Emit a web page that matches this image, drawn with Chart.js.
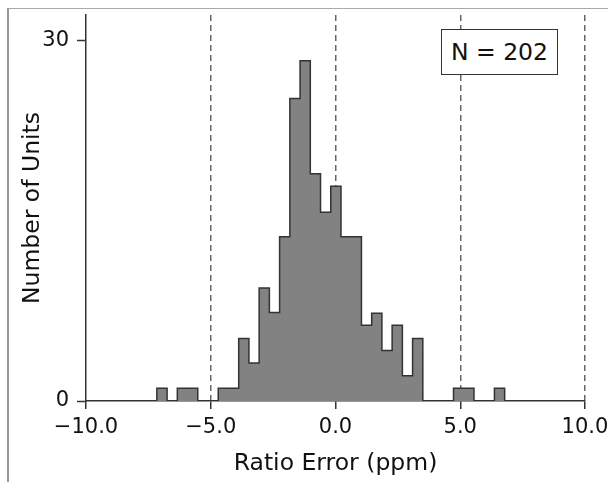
<!DOCTYPE html>
<html>
<head>
<meta charset="utf-8">
<script src="https://cdn.jsdelivr.net/npm/chart.js@4.4.1/dist/chart.umd.min.js"></script>
<style>
  html, body { margin: 0; padding: 0; background: #fff; }
  #wrap { position: relative; width: 608px; height: 482px; overflow: hidden; }
  #frame { position: absolute; left: 7px; top: 8px; width: 700px; height: 600px;
           border-left: 2px solid #999; border-top: 1.5px solid #aaa; box-sizing: border-box; }
  canvas { position: absolute; left: 0; top: 0; }
  #nbox { position: absolute; left: 441px; top: 29px; width: 117px; height: 46px; box-sizing: border-box;
          border: 1.5px solid #333; background: #fff; font-family: "DejaVu Sans", sans-serif;
          font-size: 23.5px; color: #111; display: flex; align-items: center; justify-content: center; }
</style>
</head>
<body>
<div id="wrap">
  <div id="frame"></div>
  <canvas id="c" width="608" height="482"></canvas>
  <div id="nbox">N = 202</div>
</div>
<script>
// Bin edges (ppm)
const binEdges = [-7.16, -6.75, -6.34, -5.93, -5.52, -5.11, -4.70, -4.29, -3.88, -3.47,
                  -3.06, -2.65, -2.24, -1.83, -1.42, -1.01, -0.60, -0.19, 0.22, 0.63,
                  1.04, 1.45, 1.86, 2.27, 2.68, 3.09, 3.50, 3.91, 4.32, 4.73,
                  5.14, 5.55, 5.96, 6.37, 6.78];
// Bar heights read against the y axis (one per bin)
const binHeights = [1.05, 0, 1.05, 1.05, 0, 0, 1.05, 1.05, 5.2, 3.15,
                    9.4, 7.35, 13.65, 25.15, 28.3, 18.9, 15.7, 17.85, 13.65, 13.65,
                    6.3, 7.3, 4.2, 6.3, 2.1, 5.2, 0, 0, 0, 1.05,
                    1.05, 0, 0, 1.05];
const xTicks = [-10, -5, 0, 5, 10];
const yTicks = [0, 30];
const xTitle = "Ratio Error (ppm)";
const yTitle = "Number of Units";

// Build the stepped outline from the arrays
const pts = [{x: binEdges[0], y: 0}];
for (let i = 0; i < binHeights.length; i++) pts.push({x: binEdges[i], y: binHeights[i]});
pts.push({x: binEdges[binEdges.length - 1], y: 0});

const FONT = "'DejaVu Sans', sans-serif";
const dark = '#333';

new Chart(document.getElementById('c'), {
  type: 'line',
  data: {
    datasets: [{
      data: pts,
      stepped: 'before',
      fill: 'origin',
      backgroundColor: '#828282',
      borderColor: dark,
      borderWidth: 1.5,
      pointRadius: 0,
      tension: 0
    }]
  },
  options: {
    responsive: false,
    animation: false,
    events: [],
    layout: { padding: { left: 0, right: 23, top: 15, bottom: 0 } },
    plugins: { legend: { display: false }, tooltip: { enabled: false } },
    scales: {
      x: {
        type: 'linear',
        min: -10, max: 10,
        afterBuildTicks: s => { s.ticks = xTicks.map(v => ({ value: v })); },
        afterFit: s => { s.height = 81; s.paddingLeft = 0; s.paddingRight = 0; },
        border: { display: true, color: dark, width: 1.5, dash: [6, 4] },
        grid: {
          drawOnChartArea: true,
          drawTicks: true,
          tickLength: 8,
          tickColor: dark,
          tickWidth: 1.5,
          tickBorderDash: [],
          lineWidth: 1.5,
          color: ctx => (ctx.tick && ctx.tick.value === -10) ? 'rgba(0,0,0,0)' : '#666'
        },
        ticks: {
          color: '#111',
          font: { family: FONT, size: 21 },
          padding: 6,
          maxRotation: 0,
          autoSkip: false,
          callback: v => (v < 0 ? '\u2212' + Math.abs(v).toFixed(1) : v.toFixed(1))
        },
        title: {
          display: true, text: xTitle, color: '#111',
          font: { family: FONT, size: 23.5 },
          padding: { top: 0, bottom: 4 }
        }
      },
      y: {
        type: 'linear',
        min: 0, max: 32.1,
        afterBuildTicks: s => { s.ticks = yTicks.map(v => ({ value: v })); },
        afterFit: s => { s.width = 86; s.paddingTop = 0; s.paddingBottom = 0; },
        border: { display: true, color: dark, width: 1.5 },
        grid: {
          drawOnChartArea: false,
          drawTicks: true,
          tickLength: 9,
          tickColor: dark,
          tickWidth: 1.5
        },
        ticks: {
          color: '#111',
          font: { family: FONT, size: 21 },
          padding: 8,
          autoSkip: false,
          callback: v => String(v)
        },
        title: {
          display: true, text: yTitle, color: '#111',
          font: { family: FONT, size: 23.5 },
          padding: { top: 19, bottom: 0 }
        }
      }
    }
  }
});
</script>
</body>
</html>
